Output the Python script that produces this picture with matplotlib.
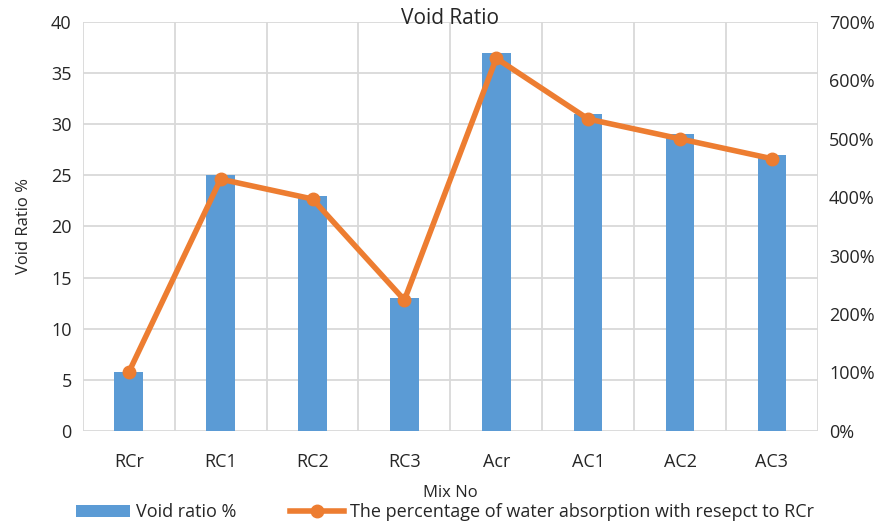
import matplotlib
matplotlib.use("Agg")
import matplotlib.pyplot as plt
import numpy as np
from matplotlib.ticker import FuncFormatter, MultipleLocator, FixedLocator
from matplotlib.lines import Line2D
from matplotlib.patches import Patch

plt.rcParams['font.family'] = ['Open Sans', 'DejaVu Sans']

categories = ["RCr", "RC1", "RC2", "RC3", "Acr", "AC1", "AC2", "AC3"]
void_ratio = [5.8, 25, 23, 13, 37, 31, 29, 27]
water_abs_pct = [100, 431, 397, 224, 638, 534, 500, 466]

blue = "#5B9BD5"
orange = "#ED7D31"
grid_c = "#D9D9D9"
txt_c = "#262626"

fig = plt.figure(figsize=(8.9, 5.26), dpi=100)
ax = fig.add_axes([0.093, 0.181, 0.826, 0.777])
x = np.arange(len(categories))
ax.bar(x, void_ratio, width=0.31, color=blue, zorder=2)
ax.set_xlim(-0.5, len(categories) - 0.5)
ax.set_ylim(0, 40)
ax.yaxis.set_major_locator(MultipleLocator(5))
ax.set_xticks(x)
ax.set_xticklabels(categories)
ax.xaxis.set_minor_locator(FixedLocator(np.arange(-0.5, len(categories), 1.0)))
ax.grid(axis='y', which='major', color=grid_c, lw=1.3, zorder=0)
ax.grid(axis='x', which='minor', color=grid_c, lw=1.3, zorder=0)
ax.set_axisbelow(True)
for s in ax.spines.values():
    s.set_visible(False)
ax.tick_params(axis='both', which='both', length=0, labelsize=13, colors=txt_c)
ax.tick_params(axis='x', pad=16)
ax.tick_params(axis='y', pad=8)
ax.set_ylabel("Void Ratio %", fontsize=12, color=txt_c, labelpad=14)
ax.set_xlabel("Mix No", fontsize=12, color=txt_c, labelpad=10)
ax.text(0.5, 1.01, "Void Ratio", transform=ax.transAxes, ha='center', va='center',
        fontsize=15, color=txt_c)

ax2 = ax.twinx()
ax2.plot(x, water_abs_pct, color=orange, lw=4, marker='o', markersize=9, zorder=3)
ax2.set_ylim(0, 700)
ax2.yaxis.set_major_locator(MultipleLocator(100))
ax2.yaxis.set_major_formatter(FuncFormatter(lambda v, p: f"{int(v)}%"))
for s in ax2.spines.values():
    s.set_visible(False)
ax2.tick_params(axis='y', length=0, labelsize=13, colors=txt_c, pad=8)

handles = [Patch(facecolor=blue, label="Void ratio %"),
           Line2D([0], [0], color=orange, lw=4, marker='o', markersize=9,
                  label="The percentage of water absorption with resepct to RCr")]
fig.legend(handles=handles, loc='lower center', bbox_to_anchor=(0.5, -0.022), ncol=2,
           frameon=False, fontsize=13, handlelength=3, columnspacing=3, handletextpad=0.3,
           labelcolor=txt_c)

fig.savefig("out.png", dpi=100)
